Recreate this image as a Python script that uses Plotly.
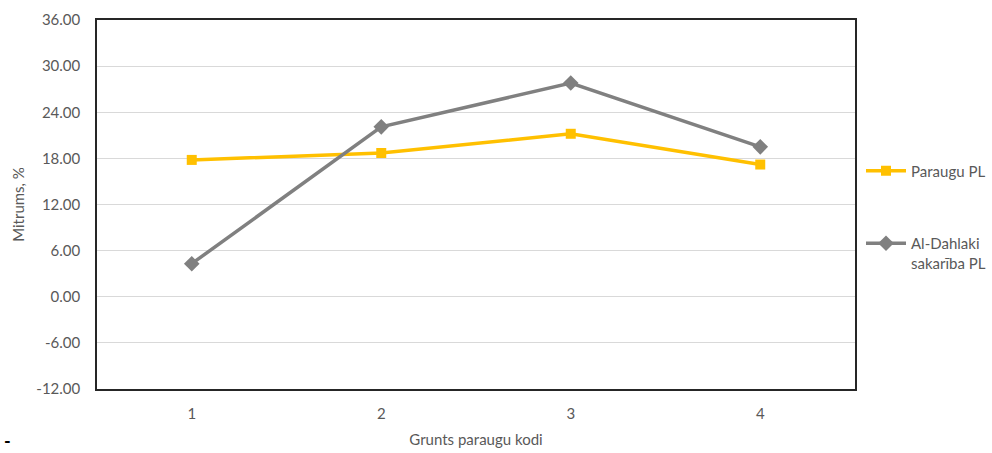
import plotly.graph_objects as go

categories = ["1", "2", "3", "4"]
paraugu_pl = [17.8, 18.7, 21.2, 17.2]
al_dahlaki_pl = [4.3, 22.1, 27.8, 19.5]
y_ticks = [-12, -6, 0, 6, 12, 18, 24, 30, 36]

font_family = "Lato, Roboto, Arial, sans-serif"
txt = "#595959"
fs = 15

fig = go.Figure()
fig.add_trace(go.Scatter(
    x=categories, y=paraugu_pl, name="Paraugu PL", mode="lines+markers",
    line=dict(color="#FFC000", width=3.5),
    marker=dict(symbol="square", size=10, color="#FFC000"),
    legend="legend",
))
fig.add_trace(go.Scatter(
    x=categories, y=al_dahlaki_pl, name="Al-Dahlaki<br>sakarība PL", mode="lines+markers",
    line=dict(color="#808080", width=3.5),
    marker=dict(symbol="diamond", size=12, color="#808080"),
    legend="legend2",
))

L, R, T, B = 97, 137, 20, 64
pw, ph = 992 - L - R, 453 - T - B

fig.update_layout(
    width=992, height=453,
    margin=dict(l=L, r=R, t=T, b=B, autoexpand=False),
    paper_bgcolor="white", plot_bgcolor="white",
    font=dict(family=font_family, size=fs, color=txt),
    legend=dict(x=(861 - L) / pw, y=(453 - B - 171) / ph, xanchor="left", yanchor="middle",
                font=dict(size=fs, color=txt), bgcolor="rgba(0,0,0,0)", itemwidth=40,
                borderwidth=0),
    legend2=dict(x=(861 - L) / pw, y=(453 - B - 253) / ph, xanchor="left", yanchor="middle",
                 font=dict(size=fs, color=txt), bgcolor="rgba(0,0,0,0)", itemwidth=40,
                 valign="top", borderwidth=0),
    xaxis=dict(
        type="category", range=[-0.5, 3.5], automargin=False,
        showline=True, linecolor="#262626", linewidth=1.5, mirror=True,
        showgrid=False, ticks="", tickfont=dict(size=fs, color=txt),
        ticklabelstandoff=10,
        title=dict(text="Grunts paraugu kodi", font=dict(size=fs, color=txt), standoff=14),
    ),
    yaxis=dict(
        range=[-12, 36], tickvals=y_ticks, automargin=False,
        ticktext=[f"{v:.2f}" for v in y_ticks],
        showline=True, linecolor="#262626", linewidth=1.5, mirror=True,
        showgrid=True, gridcolor="#d9d9d9", gridwidth=1.2,
        zeroline=False, ticks="", tickfont=dict(size=fs, color=txt),
        ticklabelstandoff=12,
        title=dict(text="Mitrums, %", font=dict(size=fs, color=txt), standoff=8),
    ),
    showlegend=True,
)
fig.add_annotation(text="<b>-</b>", xref="paper", yref="paper",
                   x=(7 - L) / pw, y=-(441 - (453 - B)) / ph,
                   xanchor="center", yanchor="middle", showarrow=False,
                   font=dict(size=18, color="#000000"))

fig.write_html("out.html", config={"displayModeBar": False},
               post_script="document.body.style.margin='0';document.body.style.overflow='hidden';")
